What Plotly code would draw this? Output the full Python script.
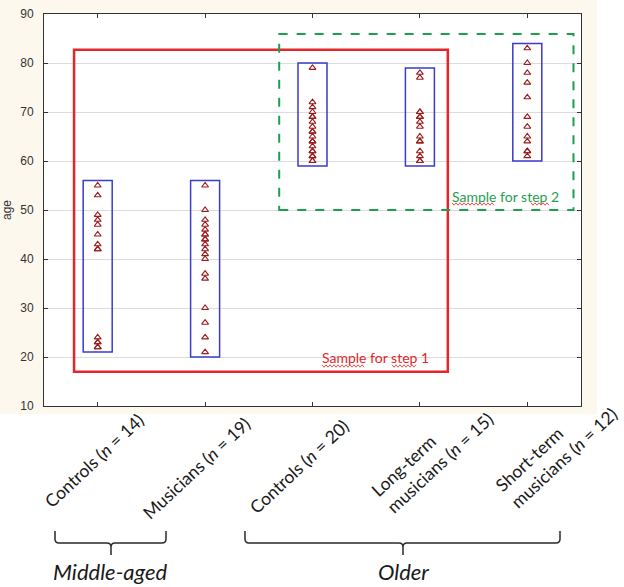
import plotly.graph_objects as go

# ---------------- data ----------------
category_labels = [
    "Controls (<i>n</i> = 14)",
    "Musicians (<i>n</i> = 19)",
    "Controls (<i>n</i> = 20)",
    "Long-term<br>musicians (<i>n</i> = 15)",
    "Short-term<br>musicians (<i>n</i> = 12)",
]
ages_middle_controls = [55, 53, 49, 48, 47, 45, 43, 42, 42, 24, 23, 23, 22, 22]
ages_middle_musicians = [55, 50, 48, 47, 46, 45, 45, 44, 44, 43, 42, 41, 40, 37, 36, 30, 27, 24, 21]
ages_older_controls = [79, 72, 71, 70, 69, 69, 68, 67, 66, 66, 65, 64, 64, 63, 62, 62, 61, 61, 60, 60]
ages_older_longterm = [78, 77, 70, 70, 69, 69, 68, 67, 65, 64, 64, 62, 61, 60, 60]
ages_older_shortterm = [83, 80, 78, 76, 73, 69, 67, 65, 64, 62, 62, 61]
box_low = [21, 20, 59, 59, 60]
box_high = [56, 56, 80, 79, 84]
step1_region = [0.78, 4.26, 17, 82.7]   # x0, x1, y0, y1
step2_region = [2.69, 5.43, 50, 85.9]
step_labels = ["Sample for step 1", "Sample for step 2"]
y_tick_values = [10, 20, 30, 40, 50, 60, 70, 80, 90]
group_labels = ["Middle-aged", "Older"]
y_title = "age"

all_ages = [ages_middle_controls, ages_middle_musicians, ages_older_controls,
            ages_older_longterm, ages_older_shortterm]

# ---------------- layout geometry (pixels) ----------------
W, H = 624, 587
L, R, T, B = 44, 581, 14, 406


def px_x(px):
    return (px - L) / (R - L)


def px_y(py):
    return (B - py) / (B - T)


def P(x, y):
    return f"{px_x(x):.5f},{px_y(y):.5f}"


fig = go.Figure()

for i, ages in enumerate(all_ages):
    fig.add_trace(go.Scatter(
        x=[i + 1] * len(ages), y=ages, mode="markers",
        marker=dict(symbol="triangle-up-open", size=6, color="#9a1c1c",
                    line=dict(width=1.1, color="#9a1c1c")),
        showlegend=False, hoverinfo="y"))

shapes = []
# cream background of the original figure, plot area white
shapes.append(dict(type="rect", xref="paper", yref="paper", layer="below",
                   x0=px_x(0), x1=px_x(597), y0=px_y(414), y1=px_y(0),
                   fillcolor="#fcf8ee", line=dict(width=0)))
shapes.append(dict(type="rect", xref="paper", yref="paper", layer="below",
                   x0=0, x1=1, y0=0, y1=1, fillcolor="white", line=dict(width=0)))

half_w = 0.135
for i, (lo, hi) in enumerate(zip(box_low, box_high)):
    shapes.append(dict(type="rect", xref="x", yref="y",
                       x0=i + 1 - half_w, x1=i + 1 + half_w, y0=lo, y1=hi,
                       line=dict(color="#3b3bcc", width=1.5)))

shapes.append(dict(type="rect", xref="x", yref="y",
                   x0=step1_region[0], x1=step1_region[1],
                   y0=step1_region[2], y1=step1_region[3],
                   line=dict(color="#e3262a", width=2.5)))
shapes.append(dict(type="rect", xref="x", yref="y",
                   x0=step2_region[0], x1=step2_region[1],
                   y0=step2_region[2], y1=step2_region[3],
                   line=dict(color="#1f9e4f", width=2, dash="dash")))


def brace_path(x_left, x_right, x_mid, y_top=531, y_bar=543, y_tip=555, r=4):
    return (f"M {P(x_left, y_top)} L {P(x_left, y_bar - r)} Q {P(x_left, y_bar)} {P(x_left + r, y_bar)} "
            f"L {P(x_mid - r, y_bar)} Q {P(x_mid, y_bar)} {P(x_mid, y_bar + r)} L {P(x_mid, y_tip)} "
            f"M {P(x_mid, y_bar + r)} Q {P(x_mid, y_bar)} {P(x_mid + r, y_bar)} "
            f"L {P(x_right - r, y_bar)} Q {P(x_right, y_bar)} {P(x_right, y_bar - r)} L {P(x_right, y_top)}")


brace_px = [(55, 166, 111), (245, 560, 403)]
for (xl, xr, xm) in brace_px:
    shapes.append(dict(type="path", xref="paper", yref="paper",
                       path=brace_path(xl, xr, xm),
                       line=dict(color="#2a2a2a", width=1.5)))


# spell-check style wavy underlines seen under "Sample" and "step"
def wavy(x0, x1, y, amp=1.2, step=2.0):
    pts = []
    x = x0
    k = 0
    while x <= x1:
        pts.append(P(x, y + (amp if k % 2 else -amp)))
        x += step
        k += 1
    return "M " + " L ".join(pts)


for (x0, x1, y) in [(322, 364, 366), (392, 416, 366), (452, 494, 204), (531, 550, 204)]:
    shapes.append(dict(type="path", xref="paper", yref="paper", path=wavy(x0, x1, y),
                       line=dict(color="#e0403a", width=0.9)))

annotations = []
# category labels (rotated, left aligned)
label_centers = [(94, 460), (196, 468), (299, 466), (432, 455), (556, 450)]
for i, (lab, (cx, cy)) in enumerate(zip(category_labels, label_centers)):
    tick_px = L + (i + 0.5) * (R - L) / 5
    annotations.append(dict(
        text=lab, xref="x", yref="paper", x=i + 1, y=0,
        xshift=cx - tick_px, yshift=-(cy - B),
        xanchor="center", yanchor="middle", textangle=-43, align="left",
        showarrow=False, font=dict(family="Lato, Carlito, sans-serif", size=17.5, color="#1a1a1a")))

for lab, cx in zip(group_labels, [110, 403]):
    annotations.append(dict(
        text=f"<i>{lab}</i>", xref="paper", yref="paper", x=px_x(cx), y=px_y(571),
        xanchor="center", yanchor="middle", showarrow=False,
        font=dict(family="Lato, Carlito, sans-serif", size=22, color="#1a1a1a")))

annotations.append(dict(
    text=step_labels[0], xref="x", yref="y", x=3.59, y=19.8,
    xanchor="center", yanchor="middle", showarrow=False,
    font=dict(family="Lato, Carlito, sans-serif", size=14, color="#e3262a")))
annotations.append(dict(
    text=step_labels[1], xref="x", yref="y", x=4.80, y=52.7,
    xanchor="center", yanchor="middle", showarrow=False,
    font=dict(family="Lato, Carlito, sans-serif", size=14, color="#1f9e4f")))

annotations.append(dict(
    text=y_title, xref="paper", yref="paper", x=px_x(7), y=px_y(210),
    xanchor="center", yanchor="middle", textangle=-90, showarrow=False,
    font=dict(family="Liberation Sans, Arial, sans-serif", size=12, color="#333")))

fig.update_layout(
    width=W, height=H, autosize=False,
    margin=dict(l=L, r=W - R, t=T, b=H - B, pad=0),
    paper_bgcolor="white", plot_bgcolor="white",
    shapes=shapes, annotations=annotations,
    xaxis=dict(range=[0.5, 5.5], tickvals=[1, 2, 3, 4, 5], showticklabels=False,
               automargin=False,
               showgrid=False, zeroline=False, showline=True, linecolor="#333",
               linewidth=1, mirror="ticks", ticks="inside", ticklen=4, tickcolor="#333"),
    yaxis=dict(range=[10, 90], tickvals=y_tick_values, showgrid=True, gridcolor="#dcdcdc",
               automargin=False,
               zeroline=False, showline=True, linecolor="#333", linewidth=1,
               mirror="ticks", ticks="inside", ticklen=4, tickcolor="#333",
               ticklabelstandoff=7,
               tickfont=dict(family="Liberation Sans, Arial, sans-serif", size=12, color="#333")),
)

fig.write_html("out.html", config={"displayModeBar": False},
               post_script="document.body.style.margin='0';document.body.style.overflow='hidden';")
